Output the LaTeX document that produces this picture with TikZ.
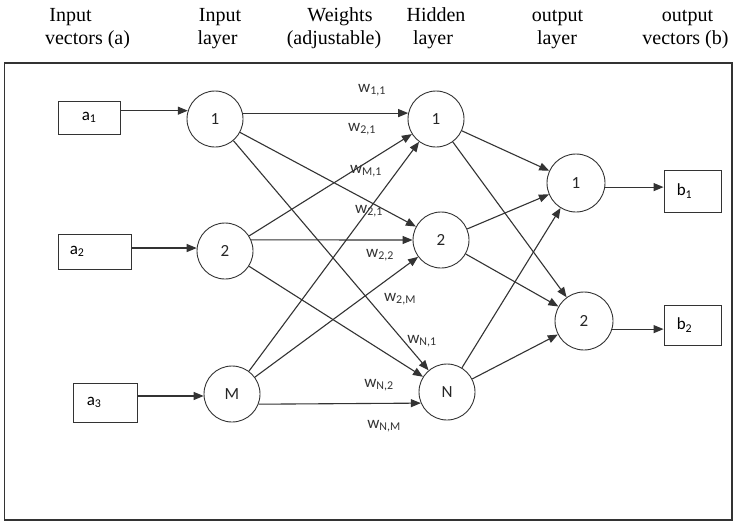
\documentclass[tikz,border=0pt]{standalone}
\usepackage{fontspec}
\setmainfont{Liberation Serif}
\newfontfamily\calfont{Carlito}
\usetikzlibrary{arrows.meta}
\definecolor{linegray}{HTML}{333333}
\tikzset{
  neuron/.style={circle, draw=linegray, line width=0.9pt, minimum size=56pt,
    inner sep=0pt, text=black!85, font=\calfont\fontsize{17}{20}\selectfont},
  vecbox/.style={rectangle, draw=linegray, line width=0.9pt, inner sep=0pt},
  vlbl/.style={inner sep=0pt, anchor=west, font=\calfont\fontsize{17}{20}\selectfont},
  wlbl/.style={inner sep=0pt, text=black!80, font=\calfont\fontsize{17}{20}\selectfont},
  head/.style={inner sep=0pt, anchor=base, font=\fontsize{20}{23.5}\selectfont},
  arr/.style={draw=linegray, line width=1.1pt, -{Triangle[length=10pt,width=8pt]}},
  frame/.style={draw=linegray, line width=1.4pt}
}
\begin{document}
\begin{tikzpicture}[x=1pt, y=-1pt]
\useasboundingbox (0,0) rectangle (742,522);
\fill[white] (0,0) rectangle (742,522);

% column headings
\node[head] (h1a) at (70.5,21) {Input};
\node[head] (h1b) at (87.5,44) {vectors (a)};
\node[head] (h2a) at (220,21) {Input};
\node[head] (h2b) at (217.5,44) {layer};
\node[head] (h3a) at (340,21) {Weights};
\node[head] (h3b) at (334,44) {(adjustable)};
\node[head] (h4a) at (436,21) {Hidden};
\node[head] (h4b) at (433,44) {layer};
\node[head] (h5a) at (557.5,21) {output};
\node[head] (h5b) at (557,44) {layer};
\node[head] (h6a) at (687.5,21) {output};
\node[head] (h6b) at (685.5,44) {vectors (b)};

% outer frame
\draw[frame] (4.5,63) rectangle (732,520);

% input vectors
\node[vecbox, minimum width=62pt, minimum height=33pt] (a1) at (89,117.5) {};
\node[vecbox, minimum width=73pt, minimum height=35pt] (a2) at (94.5,251.5) {};
\node[vecbox, minimum width=64pt, minimum height=39pt] (a3) at (105,402.5) {};
\node[vlbl] (ta1) at ([xshift=24pt]a1.west) {a\textsubscript{1}};
\node[vlbl] (ta2) at ([xshift=12pt]a2.west) {a\textsubscript{2}};
\node[vlbl] (ta3) at ([xshift=14pt]a3.west) {a\textsubscript{3}};

% output vectors
\node[vecbox, minimum width=57pt, minimum height=42pt] (b1) at (692.5,191) {};
\node[vecbox, minimum width=57pt, minimum height=40pt] (b2) at (692.5,325) {};
\node[vlbl] (tb1) at ([xshift=13pt]b1.west) {b\textsubscript{1}};
\node[vlbl] (tb2) at ([xshift=13pt]b2.west) {b\textsubscript{2}};

% neurons
\node[neuron] (i1) at (215,119) {1};
\node[neuron] (i2) at (225,251) {2};
\node[neuron] (im) at (232,394) {M};
\node[neuron] (h1) at (436,119) {1};
\node[neuron] (h2) at (441,240) {2};
\node[neuron] (hn) at (447,392) {N};
\node[neuron, minimum size=58pt] (o1) at (576,183) {1};
\node[neuron, minimum size=58pt] (o2) at (584,321) {2};

% vectors into the input layer
\draw[arr] (a1.east |- i1.163) -- (i1.163);
\draw[arr] (a2.east |- i2.174) -- (i2.174);
\draw[arr] (a3.east |- im.184) -- (im.184);

% input layer to hidden layer
\draw[arr] (i1.12) -- (h1.168);
\draw[arr] (i1) -- (h2);
\draw[arr] (i1) -- (hn);
\draw[arr] (i2) -- (h1);
\draw[arr] (i2.23) -- (h2.180);
\draw[arr] (i2) -- (hn);
\draw[arr] (im) -- (h1);
\draw[arr] (im) -- (h2);
\draw[arr] (im.339) -- (hn.203);

% hidden layer to output layer
\draw[arr] (h1) -- (o1);
\draw[arr] (h1) -- (o2);
\draw[arr] (h2) -- (o1);
\draw[arr] (h2) -- (o2);
\draw[arr] (hn) -- (o1);
\draw[arr] (hn) -- (o2);

% output layer to output vectors
\draw[arr] (o1.352) -- (b1.west |- o1.352);
\draw[arr] (o2.344) -- (b2.west |- o2.344);

% weight labels
\node[wlbl] (w11) at (372,90) {w\textsubscript{1,1}};
\node[wlbl] (w21) at (362,129) {w\textsubscript{2,1}};
\node[wlbl] (wm1) at (366,171) {w\textsubscript{M,1}};
\node[wlbl] (w21b) at (369,211) {w\textsubscript{2,1}};
\node[wlbl] (w22) at (380,255) {w\textsubscript{2,2}};
\node[wlbl] (w2m) at (400,299) {w\textsubscript{2,M}};
\node[wlbl] (wn1) at (422,341) {w\textsubscript{N,1}};
\node[wlbl] (wn2) at (379,385) {w\textsubscript{N,2}};
\node[wlbl] (wnm) at (384,426) {w\textsubscript{N,M}};
\end{tikzpicture}
\end{document}
